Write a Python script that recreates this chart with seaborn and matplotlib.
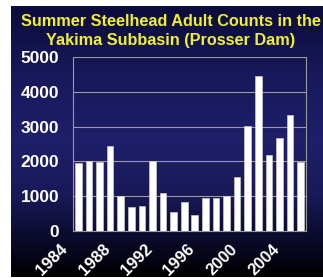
import matplotlib
matplotlib.use("Agg")
import matplotlib.pyplot as plt
from matplotlib.colors import LinearSegmentedColormap
from matplotlib.transforms import ScaledTranslation
import numpy as np
import pandas as pd
import seaborn as sns

# data
years = list(range(1984, 2006))
counts = [1960, 2000, 1970, 2450, 1010, 690, 730, 2000, 1090, 550, 845,
          460, 960, 940, 1020, 1565, 3020, 4460, 2190, 2680, 3340, 1990]
label_years = [1984, 1988, 1992, 1996, 2000, 2004]
yticks = [0, 1000, 2000, 3000, 4000, 5000]
title = "Summer Steelhead Adult Counts in the\nYakima Subbasin (Prosser Dam)"

df = pd.DataFrame({"year": years, "count": counts})

sns.set_style("white")
plt.rcParams['font.family'] = ['Liberation Sans', 'DejaVu Sans']

fig = plt.figure(figsize=(3.23, 2.78), dpi=100, facecolor="white")

# slide background gradient
bg = fig.add_axes([11/323, 1/278, 312/323, 271/278], zorder=0)
cmap = LinearSegmentedColormap.from_list(
    "slide", [(0.0, "#0c0c3c"), (0.25, "#18185a"), (0.5, "#1f1f6a"),
              (0.7, "#191958"), (0.85, "#0b0b2e"), (1.0, "#000000")])
bg.imshow(np.linspace(0, 1, 256).reshape(-1, 1), aspect="auto", cmap=cmap,
          extent=[0, 1, 0, 1])
bg.set_axis_off()

ax = fig.add_axes([73/323, 1 - 231/278, 233/323, 174/278], zorder=1)
ax.patch.set_alpha(0)
sns.barplot(data=df, x="year", y="count", color="white", width=0.63,
            edgecolor="#c8c8c8", linewidth=0.5, saturation=1, ax=ax, zorder=3)

ax.set_xlim(-0.5, len(years) - 0.5)
ax.set_ylim(0, 5000)
ax.set_yticks(yticks)
ax.set_yticklabels([str(v) for v in yticks], color="white",
                   fontsize=12.5, fontweight="bold")
ax.yaxis.grid(True, color="#9a9a9a", linewidth=0.8, zorder=0)
ax.set_axisbelow(True)

pos = [years.index(y) for y in label_years]
ax.set_xticks(pos)
ax.set_xticks(np.arange(-0.5, len(years), 1), minor=True)
ax.tick_params(axis="x", which="major", length=0, pad=0)
ax.tick_params(axis="x", which="minor", length=4, color="#c8c864", width=0.8,
               direction="out")
ax.tick_params(axis="y", length=4, color="#c8c864", width=0.8, pad=6)
ax.set_xticklabels([str(y) for y in label_years], rotation=45, ha="right",
                   va="center", rotation_mode="anchor",
                   color="white", fontsize=12, fontweight="bold")
shift = ScaledTranslation(-13/100, -16/100, fig.dpi_scale_trans)
for lab in ax.get_xticklabels():
    lab.set_transform(lab.get_transform() + shift)

for side in ["left", "right", "bottom", "top"]:
    ax.spines[side].set_color("#9a9a9a")
    ax.spines[side].set_linewidth(0.8)
ax.spines["top"].set_visible(False)
ax.set_xlabel("")
ax.set_ylabel("")

fig.text(171/323, 1 - 31/278, title, ha="center", va="center",
         color="#f0f032", fontsize=11.7, fontweight="bold", linespacing=1.3)

fig.savefig("out.png", dpi=100, facecolor=fig.get_facecolor())
plt.close()
